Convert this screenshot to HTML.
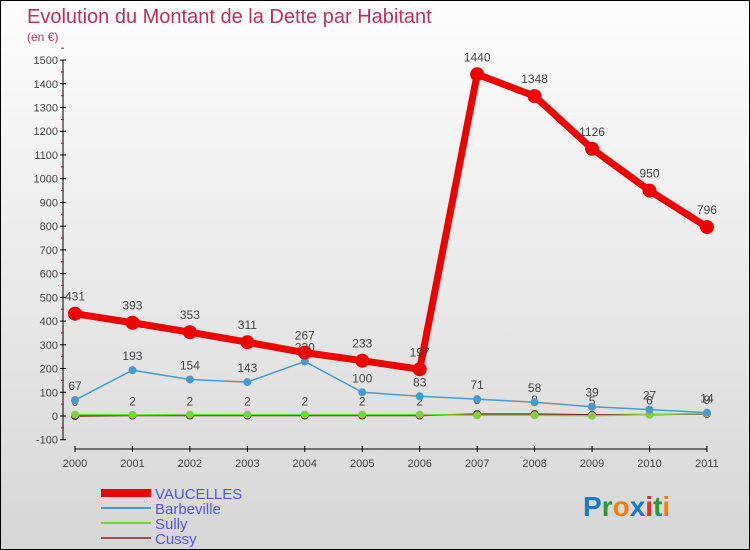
<!DOCTYPE html>
<html><head><meta charset="utf-8"><style>
body{margin:0}
#c{width:750px;height:550px;position:relative;background:linear-gradient(#fdfdfd,#d6d6d6);box-sizing:border-box;border:1px solid #000;font-family:"Liberation Sans",sans-serif;overflow:hidden}
</style></head><body>
<div id="c">
<svg id="s" width="748" height="548" xmlns="http://www.w3.org/2000/svg" style="position:absolute;left:0;top:0">
<text x="26" y="22" font-size="20" fill="#c0305a">Evolution du Montant de la Dette par Habitant</text>
<text x="26" y="40" font-size="12" fill="#c0305a">(en €)</text>
</svg>
</div>
<script>
const years=[2000,2001,2002,2003,2004,2005,2006,2007,2008,2009,2010,2011];
const vaucelles=[431,393,353,311,267,233,197,1440,1348,1126,950,796];
const barbeville=[67,193,154,143,230,100,83,71,58,39,27,14];
const sully=[6,5,6,6,6,6,6,3,3,1,6,11];
const cussy=[0,2,2,2,2,2,2,8,8,5,6,9];
const yTicks=[-100,0,100,200,300,400,500,600,700,800,900,1000,1100,1200,1300,1400,1500];
const NS="http://www.w3.org/2000/svg";
const s=document.getElementById('s');
const X=i=>74+i*57.45;
const Y=v=>415-v*0.2373;
function el(t,a,p){const e=document.createElementNS(NS,t);for(const k in a)e.setAttribute(k,a[k]);(p||s).appendChild(e);return e;}
let ax=el('line',{x1:62,y1:Y(1500),x2:62,y2:Y(-100),stroke:'#000'});


yTicks.forEach(v=>{
 el('line',{x1:59,y1:Y(v),x2:65,y2:Y(v),stroke:'#000'});
 el('line',{x1:60,y1:Y(v+50),x2:63,y2:Y(v+50),stroke:'#e00'});
 const t=el('text',{x:57,y:Y(v)+4,'font-size':11,fill:'#444','text-anchor':'end'});
 t.textContent=v;
 
 
});
let xa=el('line',{x1:X(0),y1:448,x2:X(11),y2:448,stroke:'#000'});


years.forEach((y,i)=>{
 el('line',{x1:X(i),y1:445,x2:X(i),y2:451,stroke:'#000'});
 const t=el('text',{x:X(i),y:466,'font-size':11,fill:'#444','text-anchor':'middle'});
 t.textContent=y;
 
 
});
function series(d,col,w,r,name,labels){
 const g=el('g',{});
 
 
 el('polyline',{points:d.map((v,i)=>X(i)+','+Y(v)).join(' '),fill:'none',stroke:col,'stroke-width':w},g);
 d.forEach((v,i)=>{
  const c=el('circle',{cx:X(i),cy:Y(v),r:r,fill:col},g);
  
  
  if(labels){const t=el('text',{x:X(i),y:Y(v)-(r+6),'font-size':12,fill:'#444','text-anchor':'middle'},g);t.textContent=v;}
 });
}
series(cussy,'#6b1a1a',1.5,4,'cussy',true);
series(sully,'#7fd040',1.5,4,'sully',false);
series(barbeville,'#4a9ad0',1.5,4,'barbeville',true);
series(vaucelles,'#ee0000',7,7,'vaucelles',true);
const leg=[['VAUCELLES','#ee0000',8],['Barbeville','#4a9ad0',2],['Sully','#7fd040',2],['Cussy','#9a5050',2]];
leg.forEach((l,i)=>{
 const g=el('g',{});
 
 
 const y=492+i*15;
 el('line',{x1:100,y1:y,x2:150,y2:y,stroke:l[1],'stroke-width':l[2]},g);
 const t=el('text',{x:154,y:y+6,'font-size':15,fill:'#5555ee'},g);t.textContent=l[0];
});
const p=el('text',{x:582,y:515,'font-size':28,'font-weight':'bold'});


[['P','#1a7ad0'],['r','#2a9a3a'],['o','#f08010'],['x','#1a7ad0'],['i','#e03020'],['t','#2a9a3a'],['i','#f08010']].forEach(c=>{const t=el('tspan',{fill:c[1]},p);t.textContent=c[0];});
</script>
</body></html>
